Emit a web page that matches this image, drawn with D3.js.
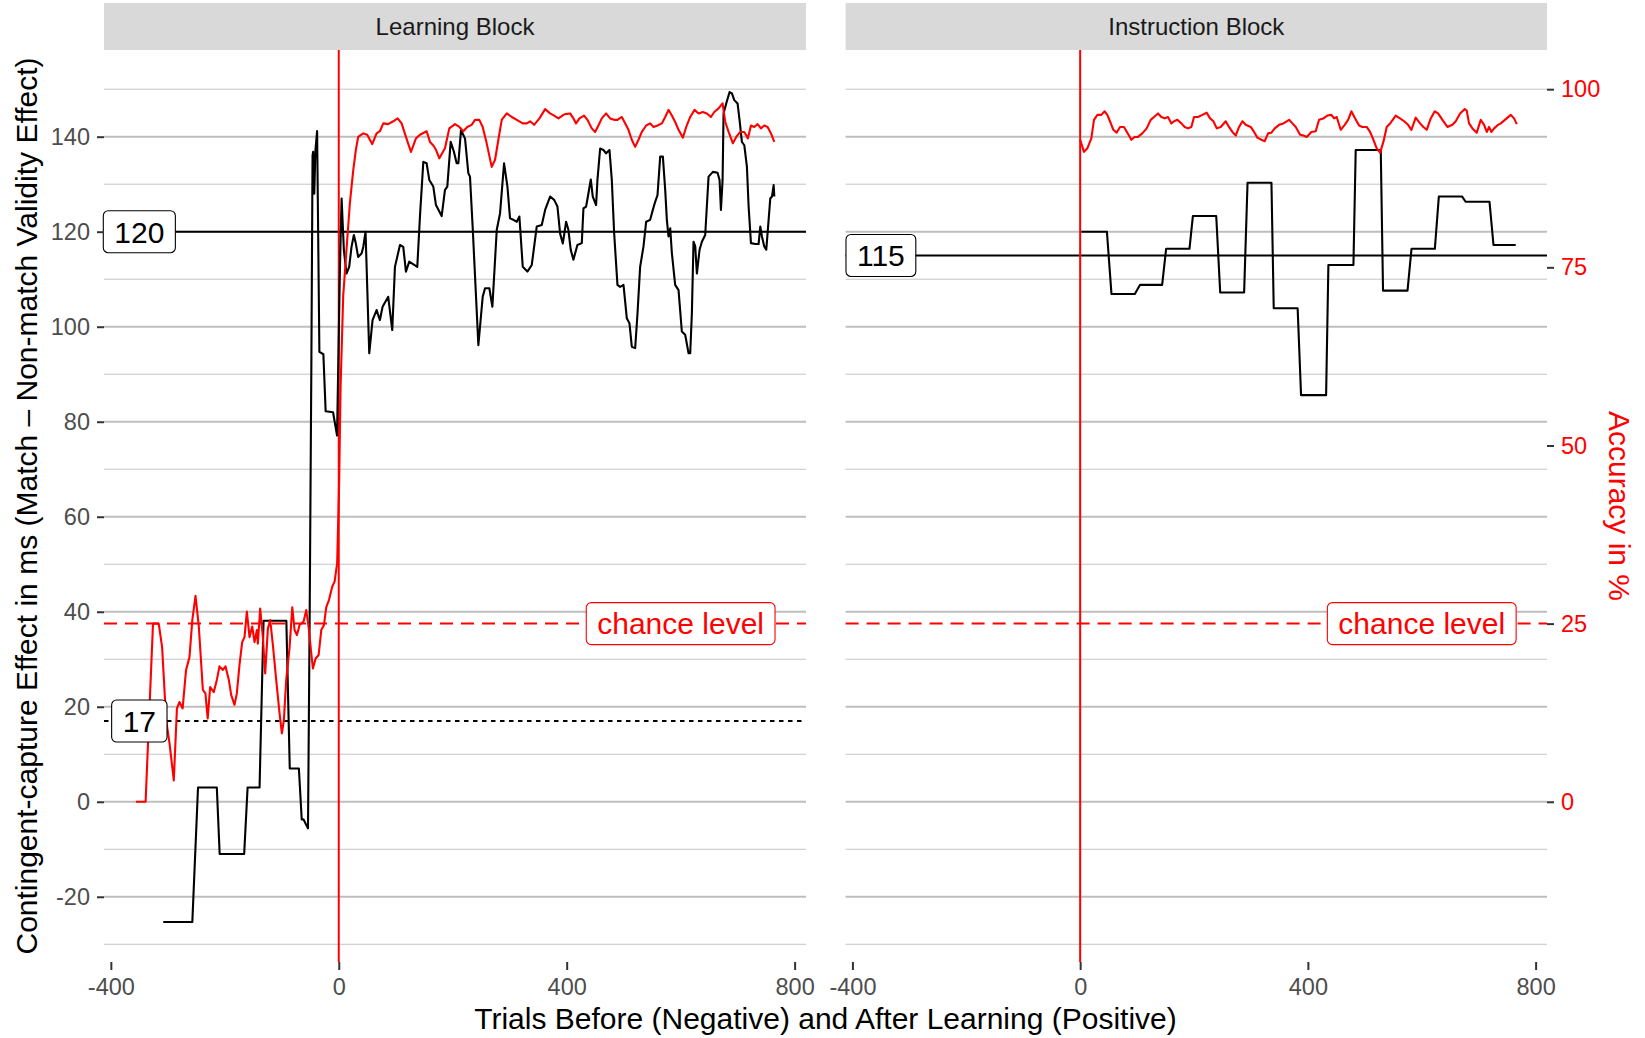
<!DOCTYPE html>
<html>
<head>
<meta charset="utf-8">
<script src="https://cdn.jsdelivr.net/npm/d3@7"></script>
<style>
  body { margin: 0; background: #fff; }
  svg { display: block; font-family: "Liberation Sans", Arial, sans-serif; }
</style>
</head>
<body>
<svg id="chart" width="1645" height="1038"></svg>
<script>
// Facet titles and axis ticks
const facets = ["Learning Block", "Instruction Block"];
const xTicks = [-400, 0, 400, 800];
const msTicks = [-20, 0, 20, 40, 60, 80, 100, 120, 140];
const msMinor = [-30, -10, 10, 30, 50, 70, 90, 110, 130, 150];
const accTicks = [0, 25, 50, 75, 100];

// Reference lines: mean effect after learning per block, mean before learning, chance level (%)
const meanAfter = [120, 115];
const meanBefore = 17;
const chanceLevel = 25;

// Learning block: capture effect (ms), moving window
const learnTrials = [-308, -257, -247, -214, -209, -166, -160, -139, -132, -92, -86, -70, -65, -62, -54,
  -51, -48, -46, -45, -43, -41, -38, -34, -27, -23, -10, -3, 2, 5, 9, 13.6, 18.3, 22.4, 26.5, 30, 34,
  40, 43, 47, 53.5, 59.3, 66.4, 72.2, 76.9, 86.8, 93.9, 98.6, 107.4, 113.2, 117.9, 123.7, 137.8, 142.5,
  148.4, 154.2, 158.9, 165.9, 170.6, 180.6, 186.4, 190.5, 196.4, 202.2, 206.9, 209.9, 214.5, 221.6,
  227.4, 230.3, 235, 245, 252.6, 256.7, 264.3, 269.6, 277.3, 283.1, 290.1, 296, 300.6, 306.5, 312.4,
  317, 322.9, 331.1, 338.7, 347.5, 356.3, 362.2, 370.9, 378, 383.8, 388.5, 393.2, 399, 403, 407.1,
  411.8, 418.8, 426.5, 429.4, 434.1, 438.2, 442.3, 445.8, 451.6, 454, 458.7, 464.5, 469.2, 475.1,
  479.2, 483.3, 489.1, 493.8, 499.7, 505.5, 510.2, 514.3, 520.2, 524.3, 528.9, 534.8, 539.5, 546.5,
  551.2, 555.3, 559.4, 564.1, 568.8, 572.9, 575.8, 578.7, 581.7, 584.6, 590.4, 596.3, 602.1, 608,
  613.9, 616.8, 619.7, 622.6, 625.6, 628.5, 633.2, 637.3, 643.1, 649, 656.6, 664.8, 668.3, 670.7,
  673.6, 675.3, 680, 685.9, 690, 694.1, 699.9, 703.4, 707.5, 711.7, 716.3, 719.3, 723.4, 731, 736.8,
  739.8, 742.7, 746.8, 750.3, 754.4, 757.3, 760.3, 763.2, 764.4];
const learnEffect = [-25.3, -25.3, 3, 3, -11, -11, 3, 3, 38.1, 38.1, 7, 7, -3.7, -3.7, -5.6,
  40, 93.7, 136, 136.8, 128, 137, 141.2, 94.7, 94.2, 82.2, 82, 77.1, 112, 127, 116.1, 111.2, 112.6,
  116.8, 119.3, 117.5, 114.7, 115.4, 116.8, 120, 94.4, 101.4, 103.5, 101.4, 104.2, 106.3, 99.3, 112.6,
  117.2, 116.8, 111.6, 113.7, 112.6, 123.2, 134.7, 134.4, 130.9, 129.5, 125.6, 123.3, 128.8, 129.5,
  138.9, 136.8, 134.4, 134.4, 141.4, 139.6, 132.3, 131.6, 121, 96.1, 106.3, 108.1, 108.1, 104.2, 120.4,
  123.9, 134.4, 129.5, 122.8, 122.5, 122.1, 123.2, 112.6, 111.6, 113, 121.1, 121.4, 124.6, 127.4,
  126.7, 125.3, 119.6, 117.5, 122.1, 120.4, 116.2, 114.1, 117.2, 117.6, 124.9, 125.3, 128.1, 131,
  127.4, 125.6, 130.9, 137.5, 137.2, 136.5, 137.2, 130.9, 119.7, 108.8, 108.4, 108.8, 101.8, 100.7,
  95.8, 95.5, 102.8, 112.6, 116.9, 122.1, 122.5, 124.6, 126.3, 127.7, 135.8, 135.8, 128.8, 122.5,
  119, 120.7, 115.5, 108.8, 107.7, 99, 98.3, 94.4, 94.4, 102.8, 117.9, 116.9, 111.2, 116.2, 117.9,
  119.3, 131.6, 132.6, 132.4, 130.9, 124.6, 130.9, 144.9, 147, 149.4, 149.1, 147.7, 147, 143.5, 138.9,
  138.2, 133.7, 125.3, 117.6, 117.4, 117.4, 121.1, 119, 116.9, 116.2, 122.5, 127, 127.4, 129.8, 127.4];

// Learning block: accuracy (%), moving window
const learnAccTrials = [-356, -339, -326, -316, -310, -303, -297, -289.5, -284, -279.5, -274, -268,
  -262, -257, -251.4, -245.6, -238.5, -234, -230, -225.7, -219.3, -214, -209.3, -203.5, -198.8, -192.9,
  -188.8, -183, -178.9, -174.2, -169.5, -165.4, -161.3, -156.6, -151.9, -147.8, -143.7, -142, -137.9,
  -133.2, -129.1, -124.4, -120.3, -115.6, -109.8, -103.9, -99.8, -96.3, -92.2, -86.3, -81.6, -77.5,
  -73.4, -68.7, -61.7, -57, -52.9, -48.2, -45.3, -40.6, -35.3, -30.7, -26, -21.9, -17.2, -11.4, -7.3,
  -2.8, 0.7, 3.1, 7.8, 13.6, 19.5, 25.4, 30, 34.1, 43, 49.9, 58.7, 66.4, 72.2, 78.1, 86.8, 95.6, 103.3,
  110.3, 117.9, 126.7, 135.5, 142.5, 154.2, 160.1, 165.9, 170.6, 176.5, 186.4, 194, 204, 211.6, 218.6,
  225.6, 233.2, 239.1, 246.7, 252.6, 259.6, 268.4, 274.3, 280.1, 286, 294.8, 303.6, 312.4, 322.9, 330,
  335.8, 342.9, 352.2, 362.2, 370.9, 378, 385.6, 394.4, 397.2, 406, 411.8, 416.5, 422.4, 430.6, 436.4,
  444, 449.9, 455.7, 461.6, 469.2, 476.2, 483.3, 489.1, 496.7, 501.4, 508.4, 514.3, 520.2, 526, 531.9,
  539.5, 546.5, 552.4, 559.4, 567, 572.9, 578.7, 584.6, 590.4, 596.3, 603.9, 609.8, 616.8, 624.4,
  631.4, 639, 646.1, 653.1, 659, 666.6, 673.6, 678.3, 684.2, 691.7, 697.6, 704.6, 711.7, 718.1, 723.4,
  729.2, 735.1, 740.9, 746.8, 752.6, 758.5, 764.4];
const learnAcc = [0, 0, 25, 25, 21.7, 11.5, 8.2, 3, 13.1, 14, 13.1, 18.5, 20.3, 25.5, 28.9, 24.6,
  15.7, 15.2, 11.7, 16.1, 15.4, 17.1, 19, 18.5, 19, 17.1, 15, 13.6, 15.2, 19.2, 22.4, 23.1, 26.7, 23.1,
  24.6, 22.4, 24.1, 22.2, 27.1, 23.1, 18, 24.3, 25.5, 22, 17.1, 12.4, 9.6, 11.5, 17.1, 21.7, 27.3,
  24.1, 23.4, 24.8, 25.3, 26.9, 24.5, 20.8, 18.7, 20.1, 20.6, 24.1, 24.8, 27.3, 28.3, 30.2, 30.9,
  33.5, 44.9, 57.9, 71, 77.5, 84, 88.6, 91.5, 93.3, 93.8, 93.6, 92.3, 93.8, 94.1, 95.2, 95.1, 95.5,
  95.9, 95.2, 93.3, 91.2, 93.1, 93.6, 94.1, 92.6, 92.1, 91.5, 90.3, 91.7, 94.5, 95.1, 94.7, 94.1,
  94.7, 95, 95.7, 95.7, 94.7, 92.4, 89.1, 90.1, 92.9, 95.7, 96.6, 96.1, 95.7, 95.2, 95.2, 95.5, 95,
  95.9, 97.2, 96.6, 96.3, 95.9, 96.4, 96.5, 96.6, 95.9, 95.2, 95.9, 96.3, 95.7, 94.5, 94, 94.9, 95.9,
  96.6, 95.9, 95.7, 95.7, 96.1, 95.4, 94.3, 92.9, 91.9, 92.9, 94, 94.9, 95.2, 94.7, 94.9, 95.2, 96.1,
  97.1, 96.3, 95.4, 94.3, 93.2, 94.7, 96.1, 97.1, 96.6, 96.8, 96.6, 96.1, 96.8, 97.3, 98, 95.4, 94,
  92.4, 93.3, 94, 94, 93.1, 94.9, 94.7, 95.1, 94.5, 94.9, 94.7, 93.8, 92.6];

// Instruction block: capture effect (ms), stepwise windows
const instrTrials = [2, 47, 55, 96, 105, 144, 151, 192, 198, 239, 246, 288, 294, 336, 340, 382, 388,
  432, 436, 480, 484, 528, 532, 575, 582, 623, 630, 671, 677, 719, 726, 765];
const instrEffect = [120, 120, 106.9, 106.9, 108.8, 108.8, 116.4, 116.4, 123.3, 123.3, 107.2, 107.2,
  130.3, 130.3, 103.9, 103.9, 85.6, 85.6, 113, 113, 137.2, 137.2, 107.6, 107.6, 116.4, 116.4, 127.4,
  127.4, 126.3, 126.3, 117.2, 117.2];

// Instruction block: accuracy (%)
const instrAccTrials = [0, 6.7, 12.6, 19.6, 24.3, 30.2, 37.2, 43, 47.7, 52.4, 58.3, 64.1, 70, 77,
  82.9, 89.9, 95.7, 101.6, 109.2, 116.8, 123.9, 129.7, 136.8, 142.6, 148.5, 154.3, 160.2, 164.9, 170.7,
  177.8, 183.6, 189.5, 195.3, 200, 207.1, 214.7, 222.3, 228.2, 234.1, 239.9, 246.9, 255.7, 261.5,
  267.4, 273.3, 279.1, 285, 290.8, 299.6, 305.5, 311.3, 318.4, 324.2, 330.1, 335.9, 341.8, 349.4, 357,
  367, 372.8, 378.7, 386.3, 392.2, 398, 406.1, 413.8, 419.6, 427.2, 434.2, 441.3, 446, 450.6, 457.7,
  464.7, 470.6, 476.4, 482.3, 489.9, 495.7, 503.3, 509.2, 515.1, 520.9, 526.8, 532.6, 538.5, 545.5,
  554.3, 561.9, 569, 576, 581.8, 589.4, 597, 602.9, 608.8, 615.8, 622.8, 628.7, 636.3, 645.1, 653.9,
  659.7, 667.3, 675.5, 679, 683.1, 689, 696.6, 703.6, 709.5, 714.2, 718.3, 722.4, 727.1, 734.1, 738.8,
  747.6, 756.4, 762.2, 766.9];
const instrAcc = [92.9, 91.2, 91.7, 93.1, 95.7, 96.4, 96.4, 96.9, 96.4, 95.5, 94.3, 93.9, 94.7, 94.7,
  93.9, 92.9, 93.3, 93.3, 93.8, 94.5, 95.7, 96.1, 96.6, 96.1, 95.9, 96.1, 95.2, 95.5, 95.7, 95.2, 94.7,
  94.5, 94.7, 96.1, 96.1, 96.4, 96.7, 95.9, 95.5, 94.5, 94.7, 95.5, 94.7, 94, 93.5, 94.7, 95.5, 95,
  94.7, 94, 93.2, 92.9, 92.7, 93.8, 93.9, 94.5, 95, 95.2, 95.7, 95.2, 94.7, 93.6, 93.5, 93.3, 94, 94.1,
  95.7, 95.9, 96.3, 96.4, 95.9, 96.1, 94.3, 95, 95.7, 96.9, 96, 94.9, 94.7, 94.7, 94, 92.9, 91.7, 91.1,
  92.6, 94.7, 95.3, 96.3, 95.9, 95.5, 95, 94.3, 96, 95.2, 94.7, 94.3, 95.9, 96.9, 96.6, 95.7, 94.7, 95,
  95.5, 96.6, 97.2, 97, 95.2, 94.5, 93.9, 95.7, 95, 94, 94.7, 94, 94.5, 95, 95.2, 95.8, 96.4, 95.9,
  95.1];

const panelTop = 50, panelBottom = 962;
const panels = [
  { x0: 104, x1: 806, effect: d3.zip(learnTrials, learnEffect), acc: d3.zip(learnAccTrials, learnAcc) },
  { x0: 845.6, x1: 1547, effect: d3.zip(instrTrials, instrEffect), acc: d3.zip(instrAccTrials, instrAcc) }
];

const svg = d3.select("#chart");
const y = d3.scaleLinear().domain([-33.73, 158.25]).range([panelBottom, panelTop]);
// accuracy axis is the effect axis divided by 1.5
const yAcc = d3.scaleLinear().domain([-33.73 / 1.5, 158.25 / 1.5]).range([panelBottom, panelTop]);
const plain = d => String(d); // ggplot prints a plain hyphen for negatives

function drawLabel(g, cx, cy, text, color) {
  const lab = g.append("g");
  const t = lab.append("text")
    .attr("x", cx).attr("y", cy).attr("dy", "0.36em")
    .attr("text-anchor", "middle")
    .attr("font-size", 30)
    .attr("fill", color)
    .text(text);
  const bb = t.node().getBBox();
  lab.insert("rect", "text")
    .attr("x", bb.x - 11).attr("y", cy - 21)
    .attr("width", bb.width + 22).attr("height", 42)
    .attr("rx", 5).attr("ry", 5)
    .attr("fill", "#fff")
    .attr("stroke", color)
    .attr("stroke-width", 1.1);
}

panels.forEach((p, i) => {
  const x = d3.scaleLinear().domain([-412, 820]).range([p.x0, p.x1]);
  const g = svg.append("g");

  // strip
  g.append("rect")
    .attr("x", p.x0).attr("y", 3)
    .attr("width", p.x1 - p.x0).attr("height", panelTop - 3)
    .attr("fill", "#D9D9D9");
  g.append("text")
    .attr("x", (p.x0 + p.x1) / 2).attr("y", 27).attr("dy", "0.35em")
    .attr("text-anchor", "middle")
    .attr("font-size", 24)
    .attr("fill", "#1A1A1A")
    .text(facets[i]);

  // horizontal grid
  g.selectAll(".minor").data(msMinor).join("line")
    .attr("class", "minor")
    .attr("x1", p.x0).attr("x2", p.x1)
    .attr("y1", d => y(d)).attr("y2", d => y(d))
    .attr("stroke", "#C4C4C4").attr("stroke-width", 1);
  g.selectAll(".major").data(msTicks).join("line")
    .attr("class", "major")
    .attr("x1", p.x0).attr("x2", p.x1)
    .attr("y1", d => y(d)).attr("y2", d => y(d))
    .attr("stroke", "#BEBEBE").attr("stroke-width", 1.9);

  // x axis
  const xAxis = g.append("g").attr("transform", `translate(0,${panelBottom})`)
    .call(d3.axisBottom(x).tickValues(xTicks).tickFormat(plain).tickSize(8).tickPadding(8));
  xAxis.select(".domain").remove();
  xAxis.selectAll(".tick line").attr("stroke", "#333").attr("stroke-width", 2);
  xAxis.selectAll(".tick text")
    .attr("font-size", 23.5).attr("fill", "#4D4D4D")
    .attr("font-family", "'Liberation Sans', Arial, sans-serif");

  // reference lines
  g.append("line")
    .attr("x1", p.x0).attr("x2", p.x1)
    .attr("y1", yAcc(chanceLevel)).attr("y2", yAcc(chanceLevel))
    .attr("stroke", "red").attr("stroke-width", 2)
    .attr("stroke-dasharray", "13,8");
  g.append("line")
    .attr("x1", p.x0).attr("x2", p.x1)
    .attr("y1", y(meanAfter[i])).attr("y2", y(meanAfter[i]))
    .attr("stroke", "#000").attr("stroke-width", 2);
  if (i === 0) {
    g.append("line")
      .attr("x1", p.x0).attr("x2", p.x1)
      .attr("y1", y(meanBefore)).attr("y2", y(meanBefore))
      .attr("stroke", "#000").attr("stroke-width", 2.2)
      .attr("stroke-dasharray", "4.5,4.5");
  }
  g.append("line")
    .attr("x1", x(0)).attr("x2", x(0))
    .attr("y1", panelTop).attr("y2", panelBottom)
    .attr("stroke", "red").attr("stroke-width", 2);

  // data
  g.append("path")
    .datum(p.effect)
    .attr("fill", "none")
    .attr("stroke", "#000").attr("stroke-width", 2.1)
    .attr("stroke-linejoin", "round")
    .attr("d", d3.line().x(d => x(d[0])).y(d => y(d[1])));
  g.append("path")
    .datum(p.acc)
    .attr("fill", "none")
    .attr("stroke", "red").attr("stroke-width", 2.1)
    .attr("stroke-linejoin", "round")
    .attr("d", d3.line().x(d => x(d[0])).y(d => yAcc(d[1])));

  // labels
  drawLabel(g, x(600), yAcc(chanceLevel), "chance level", "red");
  drawLabel(g, x(-350), y(meanAfter[i]), String(meanAfter[i]), "#000");
  if (i === 0) drawLabel(g, x(-350), y(meanBefore), String(meanBefore), "#000");
});

// left y axis
const yAxis = svg.append("g").attr("transform", `translate(${panels[0].x0},0)`)
  .call(d3.axisLeft(y).tickValues(msTicks).tickFormat(plain).tickSize(7).tickPadding(7));
yAxis.select(".domain").remove();
yAxis.selectAll(".tick line").attr("stroke", "#333").attr("stroke-width", 2);
yAxis.selectAll(".tick text")
  .attr("font-size", 23.5).attr("fill", "#4D4D4D")
  .attr("font-family", "'Liberation Sans', Arial, sans-serif");

// right accuracy axis
const accAxis = svg.append("g").attr("transform", `translate(${panels[1].x1},0)`)
  .call(d3.axisRight(yAcc).tickValues(accTicks).tickFormat(plain).tickSize(7).tickPadding(7));
accAxis.select(".domain").remove();
accAxis.selectAll(".tick line").attr("stroke", "#333").attr("stroke-width", 2);
accAxis.selectAll(".tick text")
  .attr("font-size", 23.5).attr("fill", "red")
  .attr("font-family", "'Liberation Sans', Arial, sans-serif");

// axis titles
svg.append("text")
  .attr("transform", `translate(26,${(panelTop + panelBottom) / 2}) rotate(-90)`)
  .attr("dy", "0.35em")
  .attr("text-anchor", "middle")
  .attr("font-size", 30)
  .attr("fill", "#000")
  .text("Contingent-capture Effect in ms (Match \u2013 Non-match Validity Effect)");
svg.append("text")
  .attr("transform", `translate(1619,${(panelTop + panelBottom) / 2}) rotate(90)`)
  .attr("dy", "0.35em")
  .attr("text-anchor", "middle")
  .attr("font-size", 30)
  .attr("fill", "red")
  .text("Accuracy in %");
svg.append("text")
  .attr("x", (panels[0].x0 + panels[1].x1) / 2).attr("y", 1018)
  .attr("dy", "0.35em")
  .attr("text-anchor", "middle")
  .attr("font-size", 30)
  .attr("fill", "#000")
  .text("Trials Before (Negative) and After Learning (Positive)");
</script>
</body>
</html>
